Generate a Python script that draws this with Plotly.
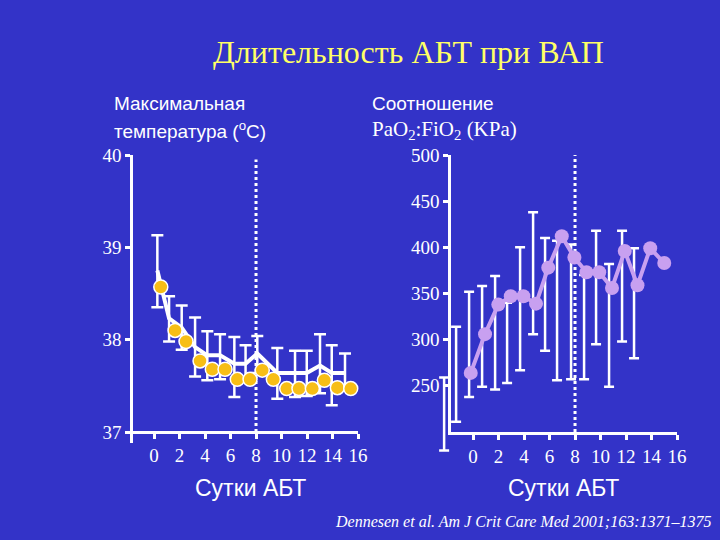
import plotly.graph_objects as go

# ---------------- data ----------------
# Left panel: maximal temperature (°C)
temp_bar_days = [0.26, 1.18, 2.17, 3.22, 4.18, 5.18, 6.3, 7.18, 8.1, 9.67, 11.06, 11.98, 13.02, 13.94, 14.98]
temp_bar_mean = [38.75, 38.23, 38.13, 37.92, 37.83, 37.83, 37.74, 37.74, 37.85, 37.64, 37.64, 37.64, 37.72, 37.64, 37.64]
temp_bar_high = [39.13, 38.47, 38.37, 38.24, 38.09, 38.06, 38.03, 37.94, 38.04, 37.91, 37.88, 37.88, 38.06, 37.94, 37.85]
temp_bar_low = [38.35, 37.98, 37.89, 37.60, 37.56, 37.57, 37.38, 37.54, 37.64, 37.36, 37.38, 37.39, 37.42, 37.29, 37.51]

temp_dot_days = [0.53, 1.65, 2.51, 3.61, 4.57, 5.57, 6.53, 7.53, 8.49, 9.36, 10.41, 11.37, 12.42, 13.36, 14.38, 15.43]
temp_dot_vals = [38.57, 38.10, 37.98, 37.77, 37.68, 37.68, 37.57, 37.57, 37.67, 37.57, 37.47, 37.47, 37.47, 37.56, 37.48, 37.47]

# Right panel: PaO2:FiO2 (KPa)
pf_days = [-0.18, 0.94, 1.98, 2.96, 3.95, 4.94, 5.9, 6.96, 7.95, 8.9, 9.9, 10.9, 11.9, 12.9, 13.9, 15.0]
pf_vals = [264, 306, 338, 347, 347, 339, 378, 412, 389, 373, 373, 356, 396, 359, 399, 383]

pf_bar_days = [-2.27, -1.33, -0.31, 0.71, 1.73, 2.67, 3.69, 4.71, 5.65, 6.59, 7.69, 8.71, 9.65, 10.67, 11.69, 12.63]
pf_bar_high = [259, 314, 352, 358, 369, 340, 400, 438, 410, 407, 403, 370, 418, 382, 418, 399]
pf_bar_low = [180, 211, 238, 249, 246, 253, 267, 306, 288, 256, 257, 257, 295, 249, 298, 280]

ABT_CHANGE_DAY = 8
x_ticks = [0, 2, 4, 6, 8, 10, 12, 14, 16]
temp_ticks = [37, 38, 39, 40]
pf_ticks = [250, 300, 350, 400, 450, 500]

title_text = "Длительность АБТ при ВАП"
left_label = ["Максимальная", "температура (<sup>o</sup>C)"]
right_label = ["Соотношение", "PaO<sub>2</sub>:FiO<sub>2</sub> (KPa)"]
x_title = "Сутки АБТ"
citation = "Dennesen et al. Am J Crit Care Med 2001;163:1371–1375"

# ---------------- styling ----------------
BG = "#3333C8"
WHITE = "#FFFFFF"
ORANGE = "#F7BE16"
PURPLE = "#C8A0F0"
SERIF = "Liberation Serif, Times New Roman, serif"
SANS = "Liberation Sans, Arial, sans-serif"

fig = go.Figure()

# left: mean line with error bars
fig.add_trace(go.Scatter(
    x=temp_bar_days, y=temp_bar_mean, mode="lines",
    line=dict(color=WHITE, width=4),
    error_y=dict(type="data", symmetric=False,
                 array=[h - m for h, m in zip(temp_bar_high, temp_bar_mean)],
                 arrayminus=[m - l for m, l in zip(temp_bar_mean, temp_bar_low)],
                 color=WHITE, thickness=2.5, width=6),
    xaxis="x", yaxis="y", showlegend=False, hoverinfo="skip", cliponaxis=False))
# left: orange dots
fig.add_trace(go.Scatter(
    x=temp_dot_days, y=temp_dot_vals, mode="markers",
    marker=dict(color=ORANGE, size=14, line=dict(color=WHITE, width=1.5)),
    xaxis="x", yaxis="y", showlegend=False, cliponaxis=False))

# right: error bars (white whiskers) on a wider hidden data axis with identical scale
pf_mid = [(h + l) / 2 for h, l in zip(pf_bar_high, pf_bar_low)]
fig.add_trace(go.Scatter(
    x=pf_bar_days, y=pf_mid, mode="markers",
    marker=dict(size=1, color="rgba(0,0,0,0)"),
    error_y=dict(type="data", symmetric=False,
                 array=[h - m for h, m in zip(pf_bar_high, pf_mid)],
                 arrayminus=[m - l for m, l in zip(pf_mid, pf_bar_low)],
                 color=WHITE, thickness=2.5, width=5),
    xaxis="x2", yaxis="y2", showlegend=False, hoverinfo="skip", cliponaxis=False))
# right: purple line with markers on the visible axes
fig.add_trace(go.Scatter(
    x=pf_days, y=pf_vals, mode="lines+markers",
    line=dict(color=PURPLE, width=4),
    marker=dict(color=PURPLE, size=14),
    xaxis="x3", yaxis="y3", showlegend=False, cliponaxis=False))

# dashed lines at change day
fig.add_shape(type="line", xref="x", yref="y", x0=ABT_CHANGE_DAY, x1=ABT_CHANGE_DAY,
              y0=temp_ticks[0], y1=temp_ticks[-1] - 0.05,
              line=dict(color=WHITE, width=3, dash="dot"), layer="below")
fig.add_shape(type="line", xref="x3", yref="y3", x0=ABT_CHANGE_DAY, x1=ABT_CHANGE_DAY,
              y0=200, y1=pf_ticks[-1],
              line=dict(color=WHITE, width=3, dash="dot"), layer="below")

axis_common = dict(showgrid=False, zeroline=False, showline=True, linecolor=WHITE, linewidth=2.5,
                   ticks="outside", tickcolor=WHITE, tickwidth=2.5, ticklen=5, automargin=False,
                   tickfont=dict(family=SERIF, size=19, color=WHITE))
hidden = dict(showgrid=False, zeroline=False, showline=False, ticks="", showticklabels=False,
              automargin=False)

# pixel geometry
X_PX_PER_DAY = (677 - 451) / (16 + 1.73)
PF_PX_PER_UNIT = (432 - 155) / 300
pf_left_px, pf_bottom_px = 430, 460
pf_x0 = -1.73 - (451 - pf_left_px) / X_PX_PER_DAY
pf_y0 = 500 - (pf_bottom_px - 155) / PF_PX_PER_UNIT

fig.update_layout(
    width=720, height=540,
    margin=dict(l=0, r=0, t=0, b=0),
    paper_bgcolor=BG, plot_bgcolor="rgba(0,0,0,0)",
    xaxis=dict(domain=[133 / 720, 358 / 720], range=[-1.65, 16], tickvals=x_ticks,
               anchor="free", position=1 - 432 / 540, **axis_common),
    yaxis=dict(domain=[1 - 443 / 540, 1 - 155 / 540], range=[37 - 11 / 92.33, 40], tickvals=temp_ticks,
               anchor="x", **axis_common),
    # hidden data axes for the right panel's whiskers
    xaxis2=dict(domain=[pf_left_px / 720, 677 / 720], range=[pf_x0, 16], anchor="y2", **hidden),
    yaxis2=dict(domain=[1 - pf_bottom_px / 540, 1 - 155 / 540], range=[pf_y0, 500], anchor="x2", **hidden),
    # visible axes for the right panel
    xaxis3=dict(domain=[451 / 720, 677 / 720], range=[-1.73, 16], tickvals=x_ticks,
                anchor="y3", **axis_common),
    yaxis3=dict(domain=[1 - 432 / 540, 1 - 155 / 540], range=[200, 500], tickvals=pf_ticks,
                anchor="x3", **axis_common),
)

def px(x, y):
    return x / 720, 1 - y / 540

annotations = []
def add_text(xp, yp, text, font, xanchor="left"):
    ax, ay = px(xp, yp)
    annotations.append(dict(x=ax, y=ay, xref="paper", yref="paper", text=text, showarrow=False,
                            xanchor=xanchor, yanchor="middle", font=font))

add_text(408, 52, title_text, dict(family=SERIF, size=32, color="#FFFF66"), "center")
for i, t in enumerate(left_label):
    add_text(112, 103 + i * 27, t, dict(family=SANS, size=19, color=WHITE))
add_text(370, 103, right_label[0], dict(family=SANS, size=19, color=WHITE))
add_text(370, 130, right_label[1], dict(family=SERIF, size=21, color=WHITE))
for cx in (250, 563):
    add_text(cx, 488, x_title, dict(family=SANS, size=23, color=WHITE), "center")
add_text(714, 521, "<i>" + citation + "</i>", dict(family=SERIF, size=16, color=WHITE), "right")
fig.update_layout(annotations=annotations)

fig.write_html("out.html", config={"displayModeBar": False},
               post_script="document.body.style.margin='0';")
